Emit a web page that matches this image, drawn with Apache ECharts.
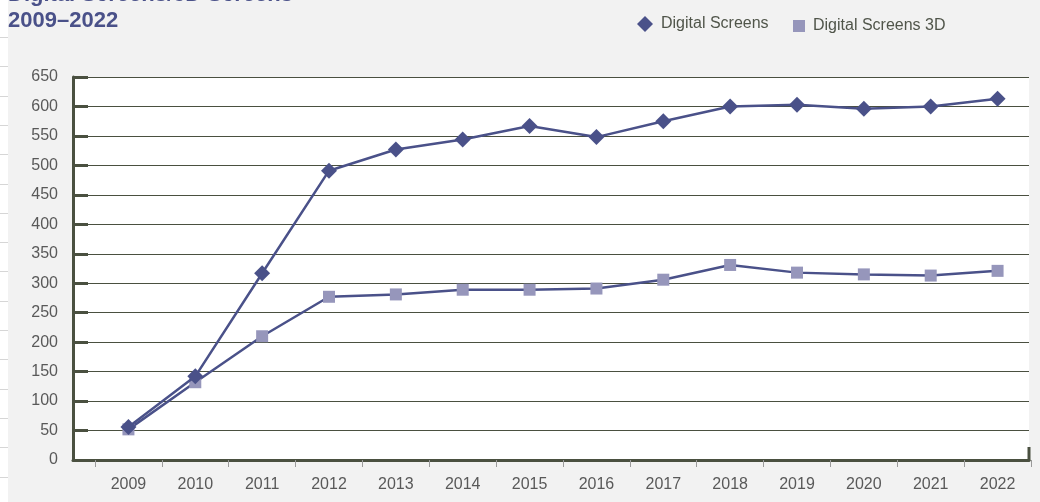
<!DOCTYPE html>
<html>
<head>
    <meta charset="utf-8"/>
    <title>Digital Screens / 3D Screens</title>
    <script src="https://cdn.jsdelivr.net/npm/echarts@6/dist/echarts.min.js"></script>
    <style>
        html, body { margin: 0; padding: 0; background: #f2f2f2; }
    </style>
</head>
<body>
<div id="main" style="width: 1040px;height:502px;"></div>
<script type="text/javascript">
    var years = ['2009', '2010', '2011', '2012', '2013', '2014', '2015',
                 '2016', '2017', '2018', '2019', '2020', '2021', '2022'];
    var digitalScreens = [56, 142, 317, 491, 527, 544, 567, 548, 575, 600, 603, 596, 600, 613];
    var digitalScreens3D = [52, 132, 210, 277, 281, 289, 289, 291, 306, 331, 318, 315, 313, 321];
    var yTicks = [0, 650, 50];   // min, max, step

    var navy = '#4a5189';
    var axisDark = '#4a5040';
    var labelGray = '#595959';

    // thin strip on the far left (piece of the next panel)
    var strip = [{
        type: 'rect', left: 0, top: 0,
        shape: { width: 8, height: 502 },
        style: { fill: '#fff' }, silent: true
    }];
    for (var y = 37; y < 502; y += 29.3) {
        strip.push({
            type: 'line',
            shape: { x1: 0, y1: Math.round(y) + 0.5, x2: 8, y2: Math.round(y) + 0.5 },
            style: { stroke: '#d6d6d6', lineWidth: 1 }, silent: true
        });
    }
    // short end mark at the right of the x axis
    strip.push({
        type: 'line',
        shape: { x1: 1029, y1: 447, x2: 1029, y2: 461 },
        style: { stroke: axisDark, lineWidth: 3 }, silent: true
    });

    var myChart = echarts.init(document.getElementById('main'));
    var option = {
        animation: false,
        backgroundColor: '#f2f2f2',
        title: {
            text: 'Digital Screens/3D Screens\n2009\u20132022',
            left: 8,
            top: -18,
            padding: 0,
            textStyle: {
                fontFamily: 'Liberation Sans, Arial, sans-serif',
                fontSize: 22,
                fontWeight: 'bold',
                lineHeight: 26,
                color: navy
            }
        },
        legend: [{
            data: [{ name: 'Digital Screens', icon: 'diamond' }],
            left: 632, top: 11,
            itemWidth: 16, itemHeight: 16,
            textStyle: { fontFamily: 'Liberation Sans, Arial, sans-serif', fontSize: 16, color: '#50554a', padding: [0, 0, 0, 3] }
        }, {
            data: [{ name: 'Digital Screens 3D', icon: 'rect' }],
            left: 788, top: 13,
            itemWidth: 12, itemHeight: 12,
            textStyle: { fontFamily: 'Liberation Sans, Arial, sans-serif', fontSize: 16, color: '#50554a', padding: [0, 0, 0, 3] }
        }],
        graphic: strip,
        grid: [
            // frame: white plot area, y axis and gridlines
            { left: 73, right: 11, top: 77, bottom: 42, show: true, backgroundColor: '#fff', borderWidth: 0 },
            // data area: categories start a bit right of the y axis
            { left: 95, right: 9, top: 77, bottom: 42 }
        ],
        xAxis: [{
            gridIndex: 0,
            type: 'category',
            data: years,
            axisLine: { show: true, lineStyle: { color: axisDark, width: 3 } },
            axisTick: { show: false },
            axisLabel: { show: false },
            splitLine: { show: false }
        }, {
            gridIndex: 1,
            type: 'category',
            data: years,
            boundaryGap: true,
            axisLine: { show: false },
            axisTick: { show: true, length: 7, lineStyle: { color: '#9a9a9a', width: 1 } },
            axisLabel: {
                margin: 17,
                fontFamily: 'Liberation Sans, Arial, sans-serif',
                fontSize: 16,
                color: labelGray
            }
        }],
        yAxis: [{
            gridIndex: 0,
            type: 'value',
            min: yTicks[0], max: yTicks[1], interval: yTicks[2],
            axisLine: { show: true, lineStyle: { color: axisDark, width: 3 } },
            axisTick: { show: true, inside: true, length: 15, lineStyle: { color: axisDark, width: 3 } },
            axisLabel: {
                margin: 15,
                fontFamily: 'Liberation Sans, Arial, sans-serif',
                fontSize: 16,
                color: labelGray
            },
            splitLine: { show: true, lineStyle: { color: axisDark, width: 1 } }
        }, {
            gridIndex: 1,
            type: 'value',
            min: yTicks[0], max: yTicks[1], interval: yTicks[2],
            show: false
        }],
        series: [{
            name: 'Digital Screens 3D',
            type: 'line',
            xAxisIndex: 1, yAxisIndex: 1,
            data: digitalScreens3D,
            symbol: 'rect',
            symbolSize: 12,
            itemStyle: { color: '#9696bb' },
            lineStyle: { color: navy, width: 2.5 },
            z: 2
        }, {
            name: 'Digital Screens',
            type: 'line',
            xAxisIndex: 1, yAxisIndex: 1,
            data: digitalScreens,
            symbol: 'diamond',
            symbolSize: 16,
            itemStyle: { color: navy },
            lineStyle: { color: navy, width: 2.5 },
            z: 3
        }]
    };
    myChart.setOption(option);
</script>
</body>
</html>
